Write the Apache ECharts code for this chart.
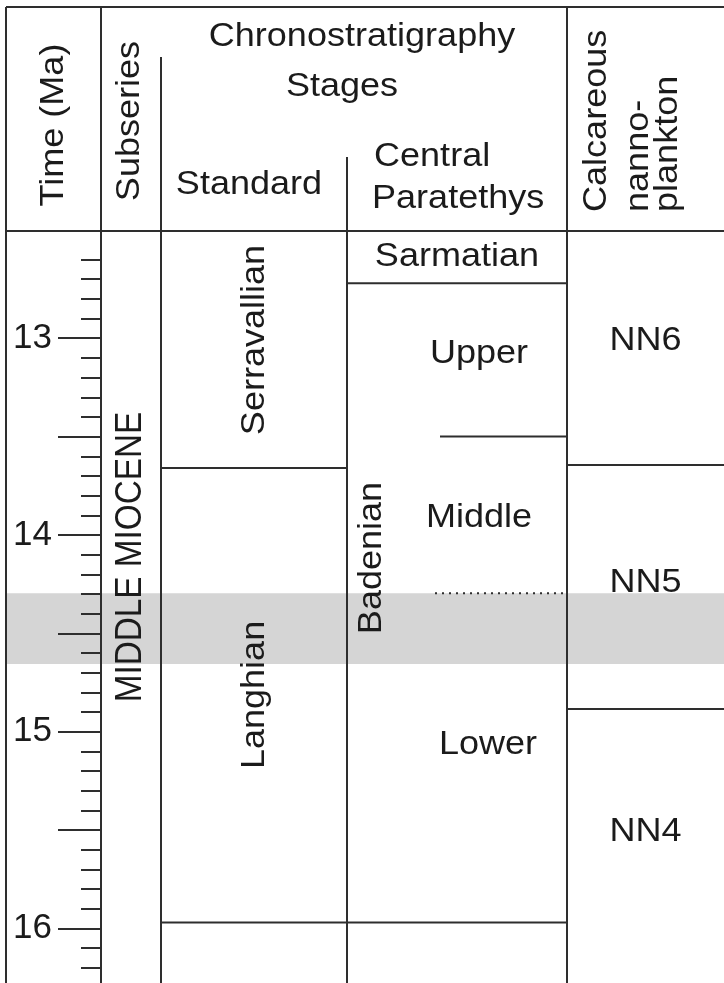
<!DOCTYPE html>
<html><head><meta charset="utf-8">
<script src="https://cdn.jsdelivr.net/npm/echarts@6/dist/echarts.min.js"></script>
<style>html,body{margin:0;padding:0;background:#fff}#c{width:724px;height:983px}</style>
</head><body><div id="c"></div>
<script>
// ---------- DATA ----------
const ageMin = 12.455, ageMax = 16.277;          // visible time range (Ma)
const minorTicks = [12.6,12.7,12.8,12.9,13.1,13.2,13.3,13.4,13.6,13.7,13.8,13.9,14.1,14.2,14.3,14.4,14.6,14.7,14.8,14.9,15.1,15.2,15.3,15.4,15.6,15.7,15.8,15.9,16.1,16.2];
const majorTicks = [13,13.5,14,14.5,15,15.5,16];
const tickLabels = [13,14,15,16];

const subseriesNames = ['MIDDLE MIOCENE'];
const subseriesLabelAge = [14.112];

const standardNames = ['Serravallian','Langhian'];
const standardBase = [13.66, 15.97];
const standardLabelAge = [13.009, 14.813];

const paratethysNames = ['Sarmatian','Badenian'];
const paratethysBase = [12.72, 15.97];
const paratethysLabelAge = [12.587, 14.117];

const badenianSubNames = ['Upper','Middle','Lower'];
const badenianSubBase = [13.5, 14.296, 15.97];
const badenianSubLabelAge = [13.078, 13.911, 15.068];

const nannoNames = ['NN6','NN5','NN4'];
const nannoBase = [13.644, 14.885, 16.277];
const nannoLabelAge = [13.014, 14.244, 15.509];

const bandRange = [14.296, 14.656];   // highlighted interval

// ---------- LAYOUT / STYLE ----------
const X = {left:6, axis:101, sub:[101,161], std:[161,347], par:[347,567], nn:[567,724], right:724,
           badLabel:372, subLabel:[479,479,488], subLineStart:[440,435]};
const subLineDash = {Middle:[2,5]};    // boundary below "Middle" is dotted
const LINE = '#2e2e2e', TXT = '#1b1b1b', FONT = '"Liberation Sans", Arial, Helvetica, sans-serif';
const FS = 34, STRETCH = 1.06;

function textEl(t, x, y, o) {
  o = o || {};
  const st = {text:t, fill:TXT, textFill:TXT, fontSize:o.fs||FS, fontFamily:FONT,
    align:o.align||'center', textAlign:o.align||'center',
    verticalAlign:'middle', textVerticalAlign:'middle'};
  return {type:'text', x:x, y:y, rotation:o.rot?Math.PI/2:0, scaleX:o.sx||STRETCH, scaleY:o.sy||1, style:st, silent:true};
}
function lineEl(x1,y1,x2,y2,dash){
  return {type:'line', shape:{x1,y1,x2,y2}, style:{stroke:LINE, lineWidth:2, lineDash:dash||null}, silent:true};
}

function renderBody(params, api){
  const Y = v => api.coord([X.left, v])[1];
  const yTop = Y(ageMin), yBot = Y(ageMax);
  const ch = [];
  [X.std[0], X.par[0], X.nn[0]].forEach(x => ch.push(lineEl(x, yTop, x, yBot)));
  standardBase.forEach(b => { if (b < ageMax) ch.push(lineEl(X.std[0], Y(b), X.std[1], Y(b))); });
  paratethysBase.forEach(b => { if (b < ageMax) ch.push(lineEl(X.par[0], Y(b), X.par[1], Y(b))); });
  badenianSubBase.forEach((b,i) => { if (i < badenianSubBase.length-1)
      ch.push(lineEl(X.subLineStart[i], Y(b), X.par[1], Y(b), subLineDash[badenianSubNames[i]])); });
  nannoBase.forEach(b => { if (b < ageMax) ch.push(lineEl(X.nn[0], Y(b), X.nn[1], Y(b))); });
  subseriesNames.forEach((n,i) => ch.push(textEl(n, (X.sub[0]+X.sub[1])/2, Y(subseriesLabelAge[i]), {rot:true, sx:0.98, sy:1.08})));
  standardNames.forEach((n,i) => ch.push(textEl(n, (X.std[0]+X.std[1])/2 + 1, Y(standardLabelAge[i]), {rot:true})));
  ch.push(textEl(paratethysNames[0], (X.par[0]+X.par[1])/2, Y(paratethysLabelAge[0])));
  ch.push(textEl(paratethysNames[1], X.badLabel, Y(paratethysLabelAge[1]), {rot:true}));
  badenianSubNames.forEach((n,i) => ch.push(textEl(n, X.subLabel[i], Y(badenianSubLabelAge[i]))));
  nannoNames.forEach((n,i) => ch.push(textEl(n, (X.nn[0]+X.nn[1])/2, Y(nannoLabelAge[i]))));
  return {type:'group', children:ch};
}
function renderBand(params, api){
  const p0 = api.coord([X.left, bandRange[0]]), p1 = api.coord([X.right, bandRange[1]]);
  return {type:'rect', shape:{x:p0[0], y:p0[1], width:p1[0]-p0[0], height:p1[1]-p0[1]}, style:{fill:'#d5d5d5'}, silent:true};
}

const headerEls = [
  lineEl(X.left, 7, X.right, 7),
  lineEl(X.left, 7, X.left, 983),
  lineEl(X.axis, 7, X.axis, 231),
  lineEl(X.std[0], 57, X.std[0], 231),
  lineEl(X.par[0], 157, X.par[0], 231),
  lineEl(X.nn[0], 7, X.nn[0], 231),
  lineEl(X.left, 231, X.right, 231),
  textEl('Time (Ma)', 54, 125, {rot:true}),
  textEl('Subseries', 130, 121, {rot:true}),
  textEl('Chronostratigraphy', 362, 37),
  textEl('Stages', 342, 87),
  textEl('Standard', 249, 185),
  textEl('Central', 374, 157, {align:'left'}),
  textEl('Paratethys', 372, 199, {align:'left'}),
  textEl('Calcareous', 597, 212, {rot:true, align:'left'}),
  textEl('nanno-', 639, 212, {rot:true, align:'left'}),
  textEl('plankton', 668, 212, {rot:true, align:'left'})
];

const axisCommon = {type:'value', min:ageMin, max:ageMax, inverse:true, position:'left', offset:-(X.axis-X.left),
  splitLine:{show:false}};
const chart = echarts.init(document.getElementById('c'), null, {renderer:'canvas'});
chart.setOption({
  animation:false,
  backgroundColor:'#fff',
  grid:{left:X.left, right:0, top:231, bottom:0, containLabel:false},
  xAxis:{type:'value', min:X.left, max:X.right, show:false},
  yAxis:[
    Object.assign({}, axisCommon, {
      axisLine:{show:true, lineStyle:{color:LINE, width:2}},
      axisTick:{show:true, length:20, customValues:minorTicks, lineStyle:{color:LINE, width:2}},
      axisLabel:{show:false}}),
    Object.assign({}, axisCommon, {
      axisLine:{show:false},
      axisTick:{show:true, length:43, customValues:majorTicks, lineStyle:{color:LINE, width:2}},
      axisLabel:{show:true, customValues:tickLabels, margin:49, fontSize:35, fontFamily:FONT, color:TXT,
                 formatter:v => String(v)}})
  ],
  graphic:{elements:headerEls},
  series:[
    {type:'custom', z:-1, yAxisIndex:0, renderItem:renderBand, data:[[X.left, bandRange[0]]]},
    {type:'custom', z:5, yAxisIndex:0, renderItem:renderBody, data:[[X.left, ageMin]]}
  ]
});
</script></body></html>
